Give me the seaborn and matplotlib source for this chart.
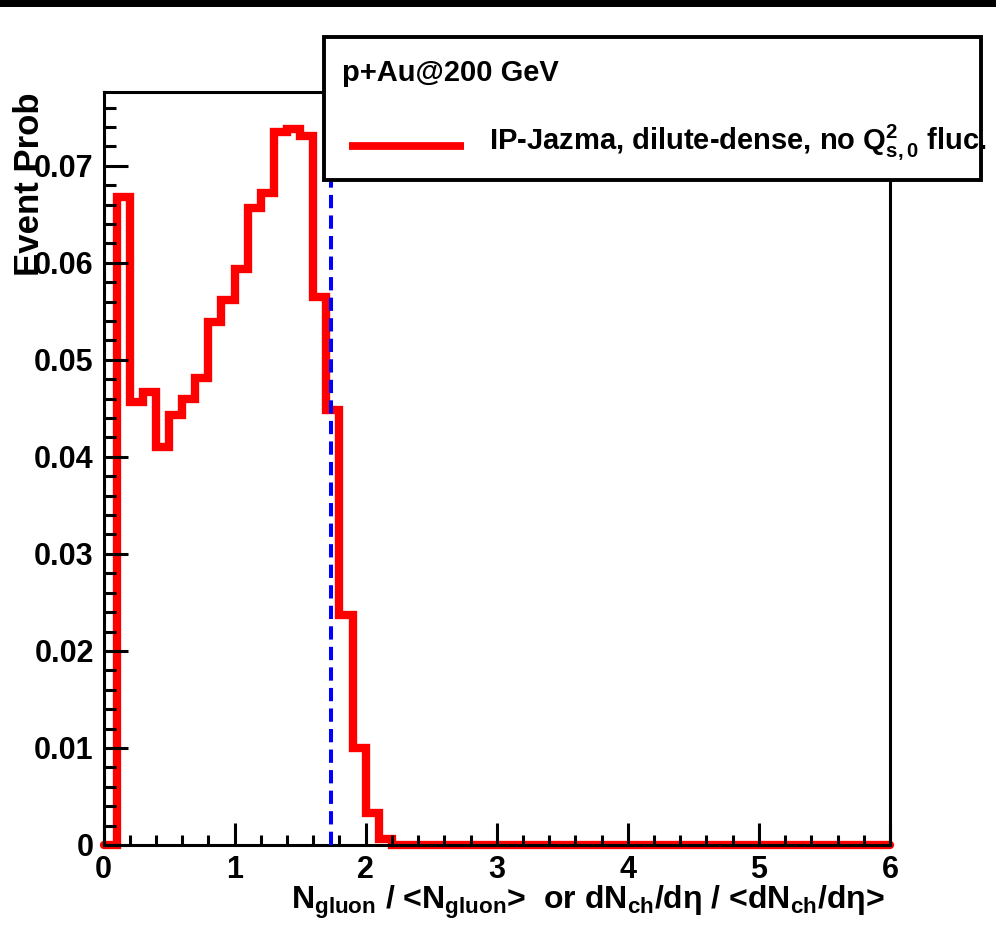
import numpy as np
import pandas as pd
import matplotlib
matplotlib.use("Agg")
import matplotlib.pyplot as plt
import seaborn as sns
from matplotlib.patches import Rectangle
from matplotlib.lines import Line2D
from matplotlib.ticker import MultipleLocator, FixedLocator, FixedFormatter

# ---------------- data ----------------
bin_width = 0.1
bin_range = (0.0, 6.0)
bin_centers = np.round(np.arange(0.05, 6.0, bin_width), 3)
# event probability per bin, bins of width 0.1 from 0 to 6
prob_low = [0.0, 0.0668, 0.0457, 0.0467, 0.0410, 0.0443, 0.0460, 0.0481,
            0.0539, 0.0562, 0.0594, 0.0656, 0.0672, 0.0735, 0.0738, 0.0731,
            0.0565, 0.0448, 0.0237, 0.0100, 0.0033, 0.0006]
prob_tail = [0.0] * 38
prob = prob_low + prob_tail
mean_line_x = 1.735

x_ticks = [0, 1, 2, 3, 4, 5, 6]
x_tick_labels = ["0", "1", "2", "3", "4", "5", "6"]
y_ticks = [0.0, 0.01, 0.02, 0.03, 0.04, 0.05, 0.06, 0.07]
y_tick_labels = ["0", "0.01", "0.02", "0.03", "0.04", "0.05", "0.06", "0.07"]

legend_header = "p+Au@200 GeV"
legend_entry = r"IP-Jazma, dilute-dense, no Q$^{2}_{s,0}$ fluc."
x_label = r"N$_{gluon}$ / <N$_{gluon}$>  or dN$_{ch}$/dη / <dN$_{ch}$/dη>"
y_label = "Event Prob"

# ---------------- style ----------------
sns.set_style("white")
plt.rcParams["font.family"] = ["Liberation Sans", "DejaVu Sans"]
plt.rcParams["font.weight"] = "bold"
plt.rcParams["text.color"] = "black"
plt.rcParams["axes.labelcolor"] = "black"
plt.rcParams["xtick.color"] = "black"
plt.rcParams["ytick.color"] = "black"
plt.rcParams["mathtext.fontset"] = "custom"
plt.rcParams["mathtext.rm"] = "Liberation Sans:bold"
plt.rcParams["mathtext.bf"] = "Liberation Sans:bold"
plt.rcParams["mathtext.it"] = "Liberation Sans:bold"
plt.rcParams["mathtext.default"] = "bf"

W, H = 996, 931
fig = plt.figure(figsize=(W / 100, H / 100), dpi=100)
fig.patch.set_facecolor("white")

ax_l, ax_r, ax_t, ax_b = 103.5, 890, 92, 845
ax = fig.add_axes([ax_l / W, 1 - ax_b / H, (ax_r - ax_l) / W, (ax_b - ax_t) / H])

df = pd.DataFrame({"x": bin_centers, "prob": prob})
sns.histplot(data=df, x="x", weights="prob", binwidth=bin_width, binrange=bin_range,
             element="step", fill=False, color="#ff0000", linewidth=6, ax=ax)
for ln in ax.lines:
    ln.set_clip_on(False)
    ln.set_solid_joinstyle("miter")

ax.axvline(mean_line_x, color="#0000ff", lw=2.9, ls=(0, (3.3, 1.8)), zorder=3)

ax.set_xlim(0, 6)
ax.set_ylim(0, 0.0776)
ax.xaxis.set_major_locator(FixedLocator(x_ticks))
ax.xaxis.set_major_formatter(FixedFormatter(x_tick_labels))
ax.xaxis.set_minor_locator(MultipleLocator(0.2))
ax.yaxis.set_major_locator(FixedLocator(y_ticks))
ax.yaxis.set_major_formatter(FixedFormatter(y_tick_labels))
ax.yaxis.set_minor_locator(MultipleLocator(0.002))
ax.set_axisbelow(False)

ax.tick_params(axis="both", which="both", direction="in", top=False, right=False,
               bottom=True, left=True, width=2.2, color="black",
               labelcolor="black", labelsize=22)
ax.tick_params(axis="y", which="major", length=17, pad=7)
ax.tick_params(axis="y", which="minor", length=8.5)
ax.tick_params(axis="x", which="major", length=16, pad=7)
ax.tick_params(axis="x", which="minor", length=7.5)
for lab in ax.get_xticklabels() + ax.get_yticklabels():
    lab.set_fontweight("bold")
for sp in ax.spines.values():
    sp.set_linewidth(2.2)
    sp.set_color("black")
    sp.set_visible(True)

ax.set_xlabel(x_label, fontsize=23, fontweight="bold", loc="right")
ax.xaxis.set_label_coords((885 - ax_l) / (ax_r - ax_l), (ax_b - 884) / (ax_b - ax_t))
ax.set_ylabel(y_label, fontsize=25, fontweight="bold", loc="top")
ax.yaxis.set_label_coords((46 - ax_l) / (ax_r - ax_l), (ax_b - 92) / (ax_b - ax_t))

# black strip at the top of the canvas
fig.add_artist(Rectangle((0, 1 - 7 / H), 1, 7 / H, transform=fig.transFigure,
                         facecolor="black", edgecolor="none", zorder=5))

# legend box (figure-level, extends past the axes)
bx0, bx1, by0, by1 = 324, 981, 37, 180
fig.add_artist(Rectangle((bx0 / W, 1 - by1 / H), (bx1 - bx0) / W, (by1 - by0) / H,
                         transform=fig.transFigure, facecolor="white",
                         edgecolor="black", linewidth=2.8, zorder=5))
fig.add_artist(Line2D([349 / W, 464 / W], [1 - 146 / H, 1 - 146 / H],
                      transform=fig.transFigure, color="#ff0000", lw=5.6,
                      solid_capstyle="butt", zorder=6))
fig.text(342 / W, 1 - 73 / H, legend_header, fontsize=21, fontweight="bold",
         ha="left", va="center", zorder=6)
fig.text(489 / W, 1 - 142 / H, legend_entry, fontsize=21, fontweight="bold",
         ha="left", va="center", zorder=6)

fig.savefig("out.png", dpi=100)
